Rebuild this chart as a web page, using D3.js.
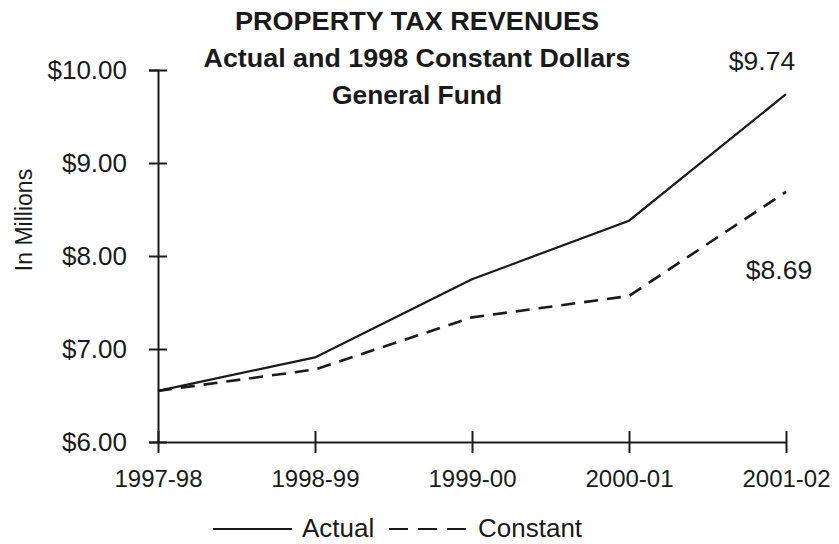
<!DOCTYPE html>
<html>
<head>
<meta charset="utf-8">
<script src="https://cdn.jsdelivr.net/npm/d3@7"></script>
<style>
  html, body { margin: 0; padding: 0; background: #fff; }
  svg { display: block; font-family: "Liberation Sans", Arial, sans-serif; }
</style>
</head>
<body>
<svg id="chart" width="839" height="544"></svg>
<script>
// Fiscal years on the x axis
const years = ["1997-98", "1998-99", "1999-00", "2000-01", "2001-02"];
// Property tax revenues, millions of dollars
const actual = [6.55, 6.91, 7.75, 8.38, 9.74];
const constant = [6.55, 6.78, 7.34, 7.57, 8.69];
// Y axis ticks
const yTicks = [6, 7, 8, 9, 10];
const titleLines = ["PROPERTY TAX REVENUES", "Actual and 1998 Constant Dollars", "General Fund"];
const titleWidths = [364, 427, 170];

const svg = d3.select("#chart");
const ink = "#1a1a1a";
const font = "Liberation Sans, Arial, sans-serif";

const x = d3.scalePoint().domain(years).range([158, 786]);
const y = d3.scaleLinear().domain([6, 10]).range([442, 70]);

// Title, three centred bold lines
svg.append("g").selectAll("text").data(titleLines).join("text")
  .attr("x", 417).attr("y", (d, i) => 30 + i * 37)
  .attr("text-anchor", "middle")
  .attr("font-weight", "bold").attr("font-size", 25)
  .attr("textLength", (d, i) => titleWidths[i]).attr("lengthAdjust", "spacingAndGlyphs")
  .attr("fill", ink).text(d => d);

// Y axis with ticks crossing the line
const yAxis = svg.append("g").attr("transform", "translate(158,0)")
  .call(d3.axisLeft(y).tickValues(yTicks).tickSize(9)
    .tickFormat(d => "$" + d3.format(".2f")(d)));
yAxis.select(".domain").attr("stroke", ink).attr("stroke-width", 2);
yAxis.selectAll(".tick line").attr("stroke", ink).attr("stroke-width", 2).attr("x2", 9).attr("x1", -9);
yAxis.selectAll(".tick text").attr("font-size", 26).attr("fill", ink)
  .attr("font-family", font).attr("x", -31).attr("dy", "0.33em");

// X axis
const xAxis = svg.append("g").attr("transform", "translate(0,442)")
  .call(d3.axisBottom(x).tickSize(9).tickSizeOuter(0));
xAxis.select(".domain").attr("stroke", ink).attr("stroke-width", 2);
xAxis.selectAll(".tick line").attr("stroke", ink).attr("stroke-width", 2).attr("y1", -11).attr("y2", 11);
xAxis.selectAll(".tick text").attr("font-size", 24).attr("fill", ink)
  .attr("font-family", font).attr("y", 45).attr("dy", null);

// Y axis title
svg.append("text")
  .attr("transform", "translate(32,220) rotate(-90)")
  .attr("text-anchor", "middle").attr("font-size", 23).attr("fill", ink)
  .text("In Millions");

// Series lines
const line = d3.line().x((d, i) => x(years[i])).y(d => y(d));
svg.append("path").datum(actual).attr("d", line)
  .attr("fill", "none").attr("stroke", ink).attr("stroke-width", 2.2);
svg.append("path").datum(constant).attr("d", line)
  .attr("fill", "none").attr("stroke", ink).attr("stroke-width", 2.6)
  .attr("stroke-dasharray", "14,9");

// End-value labels
svg.append("text").attr("x", 762).attr("y", y(actual[4]) - 24)
  .attr("text-anchor", "middle").attr("font-size", 26.5).attr("fill", ink)
  .text("$" + actual[4].toFixed(2));
svg.append("text").attr("x", 779).attr("y", y(constant[4]) + 87)
  .attr("text-anchor", "middle").attr("font-size", 26.5).attr("fill", ink)
  .text("$" + constant[4].toFixed(2));

// Legend
const legend = svg.append("g");
legend.append("line").attr("x1", 213).attr("x2", 292).attr("y1", 529).attr("y2", 529)
  .attr("stroke", ink).attr("stroke-width", 2.2);
legend.append("text").attr("x", 302).attr("y", 537).attr("font-size", 26).attr("fill", ink).text("Actual");
legend.append("line").attr("x1", 389).attr("x2", 466).attr("y1", 529).attr("y2", 529)
  .attr("stroke", ink).attr("stroke-width", 2.2).attr("stroke-dasharray", "19,10");
legend.append("text").attr("x", 478).attr("y", 537).attr("font-size", 26).attr("fill", ink).text("Constant");
</script>
</body>
</html>
